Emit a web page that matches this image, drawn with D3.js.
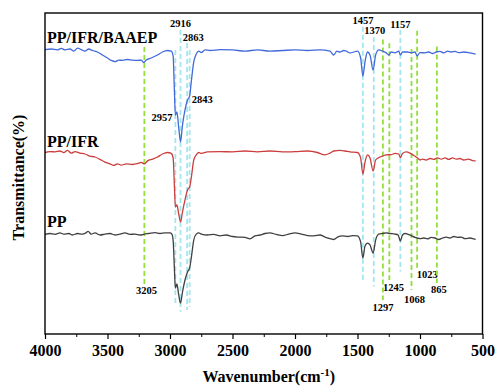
<!DOCTYPE html>
<html>
<head>
<meta charset="utf-8">
<script src="https://cdn.jsdelivr.net/npm/d3@7"></script>
<style>
  body { margin: 0; background: #fff; }
  text { font-family: "Liberation Serif", "Times New Roman", serif; font-weight: bold; }
</style>
</head>
<body>
<div id="chart"></div>
<script>
// FTIR spectra, [wavenumber cm-1, transmittance (offset, a.u.)]
const baaep = [
  [4000, 94.8], [3950, 95.0], [3900, 94.7], [3870, 95.2], [3840, 94.7], [3800, 95.0],
  [3770, 94.3], [3740, 95.3], [3710, 94.8], [3680, 94.3], [3650, 95.0], [3620, 94.5],
  [3580, 94.0], [3540, 93.0], [3500, 92.0], [3470, 91.2], [3440, 90.8], [3410, 91.3],
  [3380, 91.2], [3340, 91.5], [3300, 91.3], [3260, 91.2], [3230, 91.3], [3210, 90.5],
  [3190, 91.3], [3150, 92.0], [3100, 93.0], [3060, 94.0], [3020, 94.5], [2990, 94.3],
  [2975, 92.7], [2965, 81.3], [2957, 73.0], [2945, 74.0], [2930, 68.7], [2916, 64.0],
  [2900, 69.7], [2880, 74.7], [2860, 78.0], [2843, 79.3], [2830, 84.0], [2810, 90.7],
  [2790, 93.3], [2770, 94.3], [2750, 93.8], [2720, 94.7], [2680, 94.5], [2600, 94.8],
  [2500, 94.7], [2400, 94.3], [2300, 94.7], [2200, 94.3], [2100, 94.5], [2000, 94.7],
  [1900, 94.5], [1800, 94.7], [1720, 94.3], [1690, 93.0], [1665, 94.3], [1640, 94.0],
  [1610, 94.5], [1590, 94.3], [1560, 93.7], [1500, 94.3], [1475, 92.0], [1457, 86.0],
  [1440, 90.7], [1420, 94.0], [1400, 93.0], [1375, 88.0], [1355, 93.0], [1330, 94.7],
  [1300, 94.3], [1270, 93.7], [1250, 93.0], [1230, 94.0], [1200, 93.7], [1170, 94.3],
  [1157, 93.0], [1140, 94.0], [1100, 94.0], [1070, 93.7], [1040, 94.0], [1023, 92.7],
  [1000, 93.8], [960, 93.7], [930, 94.0], [900, 93.5], [870, 94.0], [840, 94.2],
  [810, 93.7], [780, 94.3], [750, 94.0], [720, 94.2], [690, 93.8], [650, 94.0],
  [600, 93.7], [555, 93.3]
];

const ifr = [
  [4000, 60.5], [3960, 60.8], [3920, 60.7], [3880, 61.0], [3850, 60.5], [3820, 61.2],
  [3790, 60.3], [3760, 60.8], [3720, 60.3], [3680, 60.0], [3640, 59.3], [3600, 59.0],
  [3560, 58.2], [3520, 57.3], [3480, 56.7], [3450, 56.2], [3420, 56.7], [3390, 56.3],
  [3350, 56.7], [3300, 56.5], [3260, 56.8], [3230, 57.2], [3205, 56.7], [3180, 57.7],
  [3140, 58.3], [3100, 59.0], [3060, 60.0], [3020, 60.5], [2990, 60.2], [2975, 58.7],
  [2965, 49.7], [2957, 42.3], [2945, 43.0], [2930, 40.0], [2916, 37.3], [2900, 40.7],
  [2880, 44.7], [2860, 48.0], [2843, 49.0], [2830, 52.0], [2810, 58.0], [2790, 59.7],
  [2770, 60.5], [2750, 60.2], [2700, 60.7], [2600, 60.8], [2500, 60.7], [2400, 61.0],
  [2300, 60.7], [2200, 61.0], [2100, 60.7], [2000, 60.8], [1900, 61.0], [1820, 60.5],
  [1760, 59.7], [1720, 60.3], [1690, 61.0], [1640, 61.2], [1600, 61.0], [1560, 60.7],
  [1500, 60.5], [1475, 58.7], [1457, 53.3], [1440, 57.3], [1420, 59.7], [1400, 58.7],
  [1375, 54.3], [1355, 58.0], [1330, 58.8], [1300, 59.3], [1270, 59.7], [1230, 59.8],
  [1200, 60.2], [1170, 60.0], [1157, 58.8], [1140, 60.2], [1110, 60.7], [1080, 60.3],
  [1050, 59.5], [1020, 58.7], [1000, 58.0], [980, 58.3], [950, 58.0], [920, 58.5],
  [890, 58.2], [860, 58.7], [830, 58.3], [800, 58.7], [770, 58.2], [740, 58.7],
  [710, 58.3], [680, 58.5], [650, 58.0], [610, 58.3], [580, 57.8], [555, 57.7]
];

const pp = [
  [4000, 33.2], [3960, 33.5], [3920, 33.2], [3880, 33.7], [3850, 33.3], [3810, 33.5],
  [3780, 33.0], [3740, 33.5], [3700, 33.3], [3670, 33.8], [3655, 34.2], [3630, 33.3],
  [3600, 33.7], [3560, 33.0], [3520, 33.3], [3480, 33.5], [3440, 33.0], [3400, 33.3],
  [3360, 33.7], [3320, 33.2], [3280, 33.3], [3240, 33.0], [3205, 33.3], [3170, 33.5],
  [3120, 33.8], [3080, 33.5], [3040, 33.7], [3000, 33.7], [2985, 33.3], [2975, 31.3],
  [2965, 22.0], [2957, 15.3], [2945, 16.7], [2930, 13.0], [2916, 10.3], [2900, 14.0],
  [2880, 18.0], [2860, 20.7], [2843, 22.0], [2830, 25.3], [2810, 31.3], [2790, 33.3],
  [2770, 33.7], [2750, 33.3], [2700, 33.0], [2650, 33.2], [2600, 32.7], [2550, 33.0],
  [2500, 32.5], [2450, 32.3], [2400, 32.2], [2360, 31.7], [2320, 32.7], [2280, 33.0],
  [2240, 33.5], [2200, 33.7], [2150, 33.2], [2100, 32.8], [2050, 33.3], [2000, 33.7],
  [1950, 33.3], [1900, 32.8], [1850, 32.7], [1800, 33.0], [1760, 32.3], [1720, 31.8],
  [1690, 31.5], [1660, 32.3], [1620, 32.7], [1580, 32.5], [1540, 32.8], [1500, 32.7],
  [1475, 30.7], [1457, 25.3], [1440, 29.3], [1420, 30.3], [1400, 29.7], [1375, 27.0],
  [1355, 31.3], [1330, 33.3], [1300, 33.5], [1270, 33.7], [1240, 33.5], [1200, 33.3],
  [1175, 33.0], [1157, 31.0], [1140, 33.0], [1120, 33.5], [1100, 33.3], [1070, 32.8],
  [1040, 32.2], [1000, 31.8], [970, 32.0], [940, 31.7], [910, 32.2], [880, 32.0],
  [850, 31.5], [820, 32.0], [790, 32.3], [760, 32.0], [730, 32.5], [700, 32.2],
  [670, 32.3], [640, 31.8], [600, 32.0], [570, 31.7], [555, 31.5]
];

const seriesNames = ["PP/IFR/BAAEP", "PP/IFR", "PP"];
const seriesLabelAt = [97.0, 62.4, 35.6];   // transmittance level of the name
const xTicks = [4000, 3500, 3000, 2500, 2000, 1500, 1000, 500];
const xMinorTicks = [3750, 3250, 2750, 2250, 1750, 1250, 750];

// marked bands: wavenumber, dashed line from/to (transmittance), label level
const cyanBands = [2957, 2916, 2863, 2843, 1457, 1370, 1157];
const cyanTop =    [94.7, 101.3, 97.0, 94.7, 102.4, 99.0, 101.3];
const cyanBottom = [9.7, 7.4, 8.0, 9.1, 18.0, 15.8, 20.8];
const cyanLabelAt = [71.0, 102.2, 97.7, 77.0, 103.3, 100.0, 102.0];

const greenBands = [3205, 1297, 1245, 1068, 1023, 865];
const greenTop =    [95.7, 98.2, 96.9, 95.0, 101.1, 95.8];
const greenBottom = [16.3, 11.3, 18.0, 14.7, 22.0, 17.0];
const greenLabelAt = [13.3, 7.8, 14.3, 10.4, 18.7, 13.6];

const margin = { top: 13, right: 12.5, bottom: 52, left: 45 },
      width = 495 - margin.left - margin.right,
      height = 386 - margin.top - margin.bottom;

const svg = d3.select("#chart")
  .append("svg")
  .attr("width", 495)
  .attr("height", 386)
  .append("g")
  .attr("transform", `translate(${margin.left},${margin.top})`);

const x = d3.scaleLinear().domain([4000, 500]).range([0, width]);
const y = d3.scaleLinear().domain([0, 107]).range([height, 0]);

const colors = ["#4169d9", "#cc3d3d", "#404040"];

// dashed band markers (behind the spectra)
function bands(list, tops, bottoms, labels, color, labelShift) {
  list.forEach((w, i) => {
    svg.append("line")
      .attr("x1", x(w)).attr("x2", x(w))
      .attr("y1", y(tops[i])).attr("y2", y(bottoms[i]))
      .attr("stroke", color)
      .attr("stroke-width", 1.8)
      .attr("stroke-dasharray", "5,3");
    const s = labelShift[i];
    svg.append("text")
      .attr("x", x(w) + s[0])
      .attr("y", y(labels[i]))
      .attr("text-anchor", s[1])
      .style("font-size", "10.5px")
      .text(w);
  });
}

bands(cyanBands, cyanTop, cyanBottom, cyanLabelAt, "#a4e6ee",
  [[-3, "end"], [0, "middle"], [6, "middle"], [2, "start"], [0, "middle"], [1, "middle"], [0, "middle"]]);
bands(greenBands, greenTop, greenBottom, greenLabelAt, "#92de3c",
  [[2, "middle"], [0, "middle"], [4, "middle"], [3, "middle"], [10, "middle"], [2, "middle"]]);

const line = d3.line()
  .x(d => x(d[0]))
  .y(d => y(d[1]))
  .curve(d3.curveMonotoneX);

[baaep, ifr, pp].forEach((data, i) => {
  svg.append("path")
    .datum(data)
    .attr("fill", "none")
    .attr("stroke", colors[i])
    .attr("stroke-width", 1.3)
    .attr("d", line);

  svg.append("text")
    .attr("x", 2)
    .attr("y", y(seriesLabelAt[i]))
    .style("font-size", "16px")
    .text(seriesNames[i]);
});

// axes
svg.append("g")
  .attr("transform", `translate(0,${height})`)
  .call(d3.axisBottom(x).tickValues(xMinorTicks).tickSize(3).tickFormat(""))
  .call(g => g.select(".domain").remove());

svg.append("g")
  .attr("transform", `translate(0,${height})`)
  .call(d3.axisBottom(x).tickValues(xTicks).tickSize(5).tickSizeOuter(0)
    .tickPadding(6).tickFormat(d3.format("d")))
  .call(g => g.select(".domain").remove())
  .call(g => g.selectAll(".tick line").attr("stroke-width", 1.2))
  .call(g => g.selectAll("text")
    .style("font-family", "'Liberation Serif', serif")
    .style("font-weight", "bold")
    .style("font-size", "16px")
    .attr("fill", "#000"));

svg.append("rect")
  .attr("width", width)
  .attr("height", height)
  .attr("fill", "none")
  .attr("stroke", "#000")
  .attr("stroke-width", 1.4);

const xTitle = svg.append("text")
  .attr("x", width / 2 + 5)
  .attr("y", height + 48)
  .attr("text-anchor", "middle")
  .style("font-size", "16px");
xTitle.append("tspan").text("Wavenumber(cm");
xTitle.append("tspan").attr("dy", -6).style("font-size", "11px").text("-1");
xTitle.append("tspan").attr("dy", 6).text(")");

svg.append("text")
  .attr("transform", "rotate(-90)")
  .attr("x", -height / 2 - 4)
  .attr("y", -21)
  .attr("text-anchor", "middle")
  .style("font-size", "16px")
  .text("Transmittance(%)");
</script>
</body>
</html>
